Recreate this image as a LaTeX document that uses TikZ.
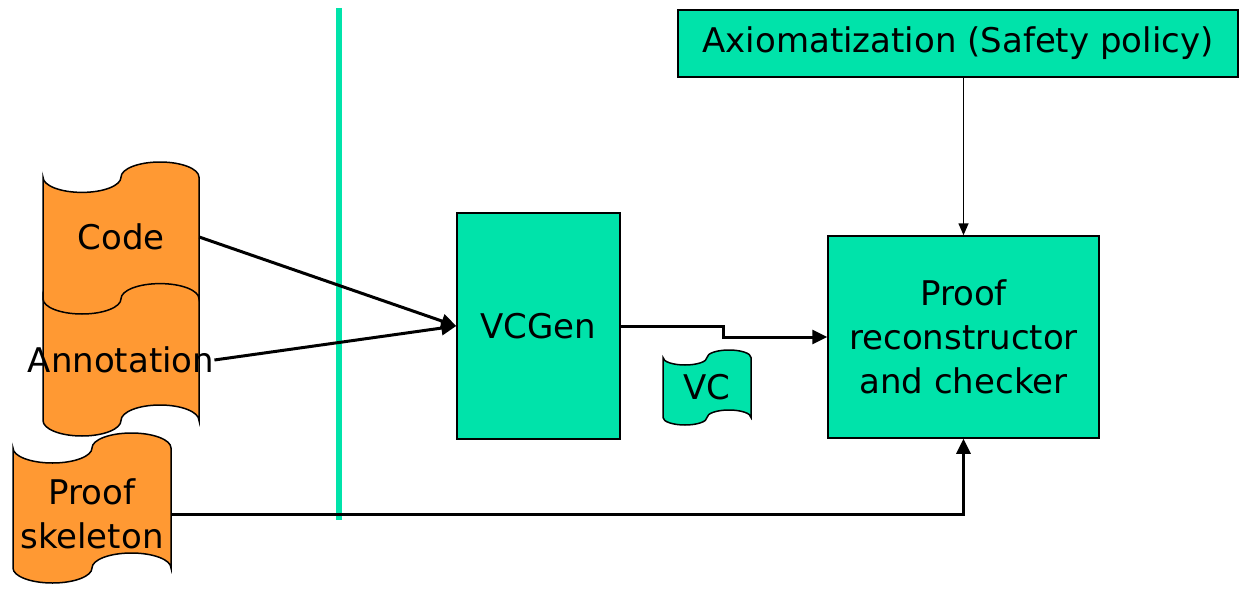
\documentclass[tikz,border=0pt]{standalone}
\usepackage{fontspec}
\setmainfont{DejaVu Sans}
\usetikzlibrary{arrows.meta}
\definecolor{mint}{HTML}{00E3AA}
\definecolor{orng}{HTML}{FF9933}
% punched-tape document shape: x0, y0, w, h, fill
\newcommand\tapeshape[5]{%
  \draw[line width=1.5pt, fill=#5]
    (#1,#2+#4/10)
    arc[start angle=180,end angle=0,x radius=#3/4,y radius=#4/10]
    arc[start angle=180,end angle=360,x radius=#3/4,y radius=#4/10]
    -- (#1+#3,#2+9*#4/10)
    arc[start angle=0,end angle=-180,x radius=#3/4,y radius=#4/10]
    arc[start angle=0,end angle=180,x radius=#3/4,y radius=#4/10]
    -- cycle;}
\tikzset{
  lbl/.style={inner sep=0pt, font=\fontsize{34}{44}\selectfont, align=center},
  box/.style={lbl, draw, line width=1.5pt, fill=mint},
  thickarrow/.style={line width=3pt, -{Triangle[length=15pt,width=14pt]}},
  thinarrow/.style={line width=1.5pt, -{Triangle[length=12pt,width=10pt]}}
}
\begin{document}
\begin{tikzpicture}[x=1pt,y=-1pt]
\useasboundingbox (0,0) rectangle (1242,594);
% separator
\draw[mint, line width=6pt] (339,8) -- (339,520);
% documents
\tapeshape{13}{433}{158}{150}{orng}
\tapeshape{43}{281}{156}{155}{orng}
\tapeshape{43}{162}{156}{152}{orng}
\tapeshape{663}{350}{88}{75}{mint}
\node[lbl, minimum width=156pt] (code) at (121,237) {Code};
\node[lbl, minimum width=156pt] (annot) at (121,360) {Annotation};
\node[lbl, minimum width=158pt] (skel) at (92,514) {Proof\\skeleton};
\node[lbl] (vc) at (707,387) {VC};
% boxes
\node[box, minimum width=163pt, minimum height=226pt] (vcgen) at (538.5,326) {VCGen};
\node[box, minimum width=271pt, minimum height=202pt] (proof) at (963.5,337) {Proof\\reconstructor\\and checker};
\node[box, minimum width=560pt, minimum height=67pt] (axiom) at (958,43.5) {Axiomatization (Safety policy)};
% connectors
\draw[thickarrow] (code.east) -- (vcgen.west);
\draw[thickarrow] (annot.east) -- (vcgen.west);
\draw[thickarrow] (vcgen.east) -- ++(103,0) |- (proof.west);
\draw[thinarrow] (proof.north |- axiom.south) -- (proof.north);
\draw[thickarrow] (skel.east) -| (proof.south);
\end{tikzpicture}
\end{document}
